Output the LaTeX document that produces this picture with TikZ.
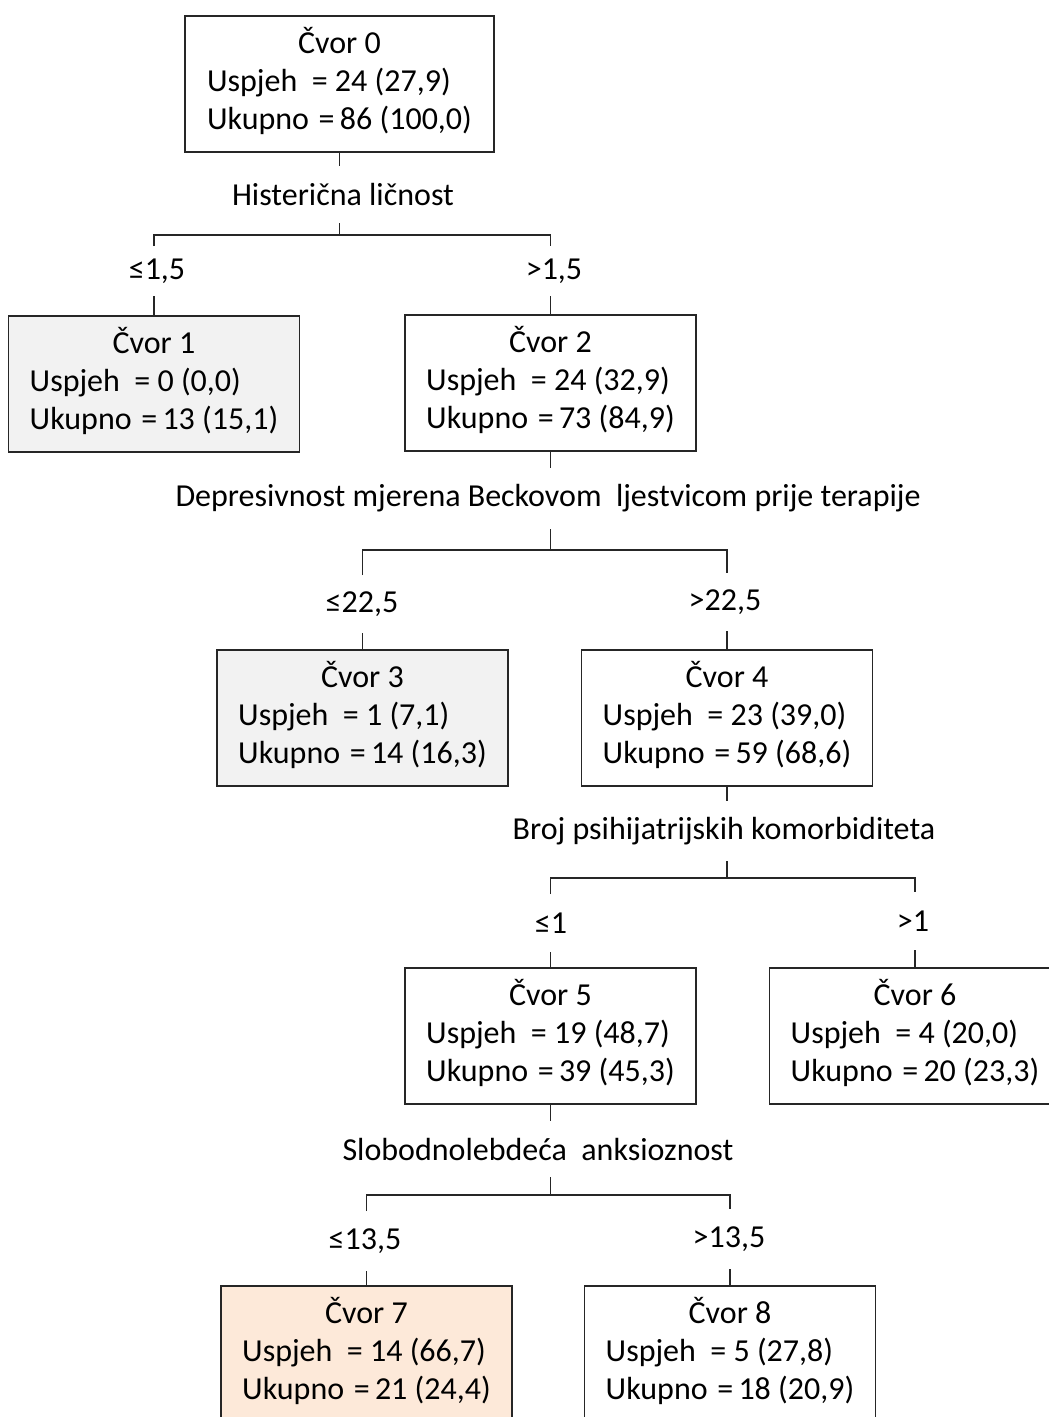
\documentclass[tikz,border=0pt]{standalone}
\usepackage{fontspec}
\setmainfont{Carlito}
\newcommand{\cvorfs}{\fontsize{32}{38}\selectfont}
\newcommand{\cvorinfo}[3]{\begin{tabular}{@{}l@{}}\multicolumn{1}{@{}c@{}}{Čvor #1}\\Uspjeh\ \ = #2\\Ukupno\hspace{0.3em}=\,#3\end{tabular}}
\definecolor{edgecol}{HTML}{262626}
\definecolor{grayfill}{HTML}{F2F2F2}
\definecolor{peachfill}{HTML}{FDE9D9}
\begin{document}
\begin{tikzpicture}[x=1pt,y=-1pt,
  treebox/.style={draw=edgecol, line width=1.8pt, minimum width=291pt, minimum height=136pt, inner sep=0pt, outer sep=0pt, font=\cvorfs},
  lbl/.style={inner sep=0pt, outer sep=0pt, font=\cvorfs},
  conn/.style={draw=edgecol, line width=1.8pt, line join=miter}]
\clip (0,0) rectangle (1049,1417);
\fill[white] (0,0) rectangle (1049,1417);
% nodes
\node[treebox, minimum width=309pt] (n0) at (339.5,84) {\cvorinfo{0}{24 (27,9)}{86 (100,0)}};
\node[treebox, fill=grayfill] (n1) at (154,384) {\cvorinfo{1}{0 (0,0)}{13 (15,1)}};
\node[treebox] (n2) at (550.5,383) {\cvorinfo{2}{24 (32,9)}{73 (84,9)}};
\node[treebox, fill=grayfill] (n3) at (362.5,718) {\cvorinfo{3}{1 (7,1)}{14 (16,3)}};
\node[treebox] (n4) at (727,718) {\cvorinfo{4}{23 (39,0)}{59 (68,6)}};
\node[treebox] (n5) at (550.5,1036) {\cvorinfo{5}{19 (48,7)}{39 (45,3)}};
\node[treebox] (n6) at (915,1036) {\cvorinfo{6}{4 (20,0)}{20 (23,3)}};
\node[treebox, fill=peachfill] (n7) at (366.5,1354) {\cvorinfo{7}{14 (66,7)}{21 (24,4)}};
\node[treebox] (n8) at (730,1354) {\cvorinfo{8}{5 (27,8)}{18 (20,9)}};
% split labels
\node[lbl, minimum height=57pt] (l0) at (343,194.5) {Histerična ličnost};
\node[lbl, minimum height=61pt] (l1) at (548,498.5) {Depresivnost mjerena Beckovom\ \ ljestvicom prije terapije};
\node[lbl, minimum height=60pt] (l2) at (724,831) {Broj psihijatrijskih komorbiditeta};
\node[lbl, minimum height=56pt] (l3) at (538,1149) {Slobodnolebdeća\ \ anksioznost};
% condition labels
\node[lbl, minimum height=50pt] (c1) at (157,271) {≤1,5};
\node[lbl, minimum height=50pt] (c2) at (554,271) {>1,5};
\node[lbl, minimum height=58pt] (c3) at (362,604) {≤22,5};
\node[lbl, minimum height=58pt] (c4) at (725,602) {>22,5};
\node[lbl, minimum height=58pt] (c5) at (551,923) {≤1};
\node[lbl, minimum height=58pt] (c6) at (913,921) {>1};
\node[lbl, minimum height=60pt] (c7) at (365,1241) {≤13,5};
\node[lbl, minimum height=60pt] (c8) at (729,1239) {>13,5};
% bar coordinates
\coordinate (b0l) at (154,235);   \coordinate (b0r) at (550.5,235);
\coordinate (b1l) at (362.5,550); \coordinate (b1r) at (727,550);
\coordinate (b2l) at (550.5,878); \coordinate (b2r) at (915,878);
\coordinate (b3l) at (366.5,1195);\coordinate (b3r) at (730,1195);
% level 0
\draw[conn] (n0.south) -- (n0.south |- l0.north);
\draw[conn] (n0.south |- l0.south) -- (n0.south |- b0l);
\draw[conn] (b0l |- c1.north) -- (b0l) -- (b0r) -- (b0r |- c2.north);
\draw[conn] (n1.north |- c1.south) -- (n1.north);
\draw[conn] (n2.north |- c2.south) -- (n2.north);
% level 1
\draw[conn] (n2.south) -- (n2.south |- l1.north);
\draw[conn] (n2.south |- l1.south) -- (n2.south |- b1l);
\draw[conn] (b1l |- c3.north) -- (b1l) -- (b1r) -- (b1r |- c4.north);
\draw[conn] (n3.north |- c3.south) -- (n3.north);
\draw[conn] (n4.north |- c4.south) -- (n4.north);
% level 2
\draw[conn] (n4.south) -- (n4.south |- l2.north);
\draw[conn] (n4.south |- l2.south) -- (n4.south |- b2l);
\draw[conn] (b2l |- c5.north) -- (b2l) -- (b2r) -- (b2r |- c6.north);
\draw[conn] (n5.north |- c5.south) -- (n5.north);
\draw[conn] (n6.north |- c6.south) -- (n6.north);
% level 3
\draw[conn] (n5.south) -- (n5.south |- l3.north);
\draw[conn] (n5.south |- l3.south) -- (n5.south |- b3l);
\draw[conn] (b3l |- c7.north) -- (b3l) -- (b3r) -- (b3r |- c8.north);
\draw[conn] (n7.north |- c7.south) -- (n7.north);
\draw[conn] (n8.north |- c8.south) -- (n8.north);
\end{tikzpicture}
\end{document}
